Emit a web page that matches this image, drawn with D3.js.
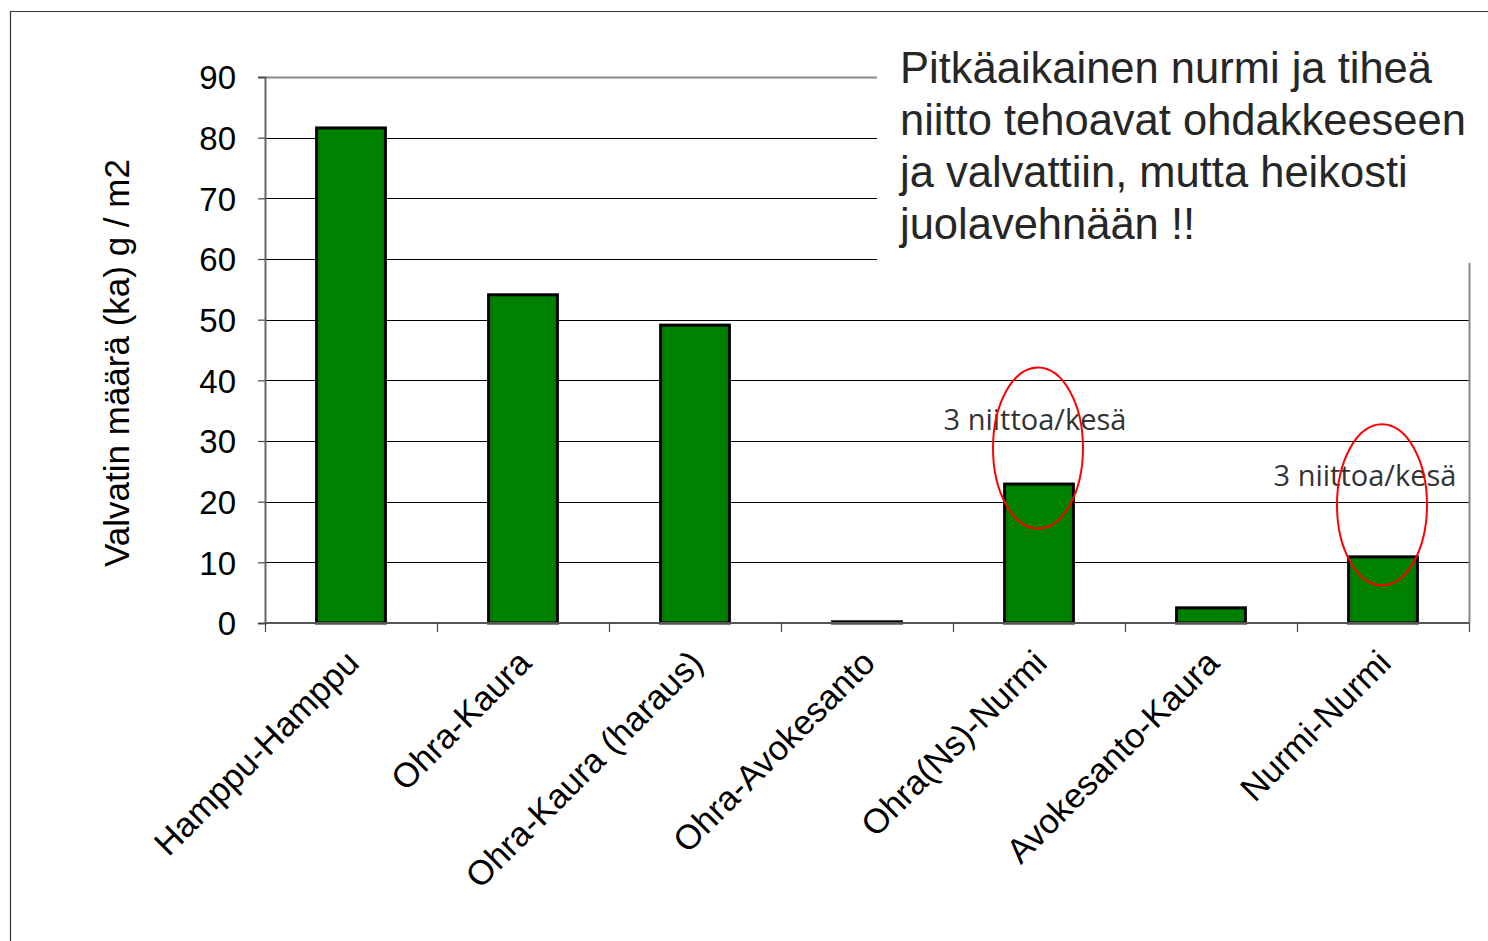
<!DOCTYPE html>
<html><head><meta charset="utf-8">
<script src="https://cdn.jsdelivr.net/npm/d3@7"></script>
<style>body{margin:0;background:#fff}svg{display:block}</style>
</head><body>
<svg id="c" width="1488" height="941"></svg>
<script>
const categories = ["Hamppu-Hamppu","Ohra-Kaura","Ohra-Kaura (haraus)","Ohra-Avokesanto","Ohra(Ns)-Nurmi","Avokesanto-Kaura","Nurmi-Nurmi"];
const values = [81.6, 54.1, 49.1, 0.2, 22.9, 2.5, 10.9];
const yTicks = [0,10,20,30,40,50,60,70,80,90];
const yTitle = "Valvatin määrä (ka) g / m2";
const noteLines = ["Pitkäaikainen nurmi ja tiheä","niitto tehoavat ohdakkeeseen","ja valvattiin, mutta heikosti","juolavehnään !!"];
const circled = ["Ohra(Ns)-Nurmi","Nurmi-Nurmi"];
const circleLabel = "3 niittoa/kesä";

const svg = d3.select("#c");
const L=265, R=1469, T=77, B=623;
const x = d3.scaleBand().domain(categories).range([L,R]).paddingInner(0.6).paddingOuter(0.3);
const xb = d3.scaleBand().domain(categories).range([L,R]);
const y = d3.scaleLinear().domain([0,90]).range([B,T]);
const FF = "Liberation Sans, Arial, sans-serif";

// outer frame
svg.append("path").attr("d","M10.5,941 V11.5 H1488").attr("fill","none").attr("stroke","#333").attr("stroke-width",1.2);

// gridlines
svg.append("g").selectAll("line").data(yTicks.filter(d=>d>0)).join("line")
  .attr("x1",L).attr("x2",R).attr("y1",d=>Math.round(y(d))+0.5).attr("y2",d=>Math.round(y(d))+0.5)
  .attr("stroke",d=>d===90?"#888":"#000").attr("stroke-width",d=>d===90?2:1);
// right border
svg.append("line").attr("x1",R+0.5).attr("x2",R+0.5).attr("y1",T).attr("y2",B).attr("stroke","#888").attr("stroke-width",2);

// annotation background box
svg.append("rect").attr("x",877).attr("y",30).attr("width",620).attr("height",233).attr("fill","#fff");

// bars
svg.append("g").selectAll("rect").data(categories).join("rect")
  .attr("x",d=>x(d)).attr("width",x.bandwidth())
  .attr("y",(d,i)=>y(values[i])).attr("height",(d,i)=>B-y(values[i]))
  .attr("fill","#008000").attr("stroke","#000").attr("stroke-width",3);

// y axis
const ya = svg.append("g").attr("transform",`translate(${L},0)`)
  .call(d3.axisLeft(y).tickValues(yTicks).tickSize(7).tickPadding(22).tickFormat(d3.format("d")));
ya.select(".domain").attr("stroke","#666").attr("stroke-width",2);
ya.selectAll(".tick line").attr("stroke","#444").attr("stroke-width",1.2);
ya.selectAll("text").attr("font-family",FF).attr("font-size",33).attr("fill","#000").attr("dy","0.36em");

// x axis
const xa = svg.append("g").attr("transform",`translate(0,${B})`);
xa.append("line").attr("x1",L).attr("x2",R).attr("stroke","#555").attr("stroke-width",2);
const edges = categories.map(c=>xb(c)).concat([R]);
xa.selectAll("line.t").data(edges).join("line").attr("class","t")
  .attr("x1",d=>d+0.5).attr("x2",d=>d+0.5).attr("y1",0).attr("y2",9).attr("stroke","#444").attr("stroke-width",1.2);
xa.selectAll("text").data(categories).join("text")
  .attr("transform",d=>`translate(${x(d)+x.bandwidth()/2+10},${42}) rotate(-45)`)
  .attr("text-anchor","end").attr("font-family",FF).attr("font-size",34.5).attr("fill","#000")
  .text(d=>d);

// y title
svg.append("text").attr("transform","translate(129,363) rotate(-90)").attr("text-anchor","middle")
  .attr("font-family",FF).attr("font-size",35).attr("fill","#000").text(yTitle);

// note
svg.append("text").attr("font-family",FF).attr("font-size",43.5).attr("fill","#262626")
  .selectAll("tspan").data(noteLines).join("tspan").attr("x",900).attr("y",(d,i)=>83+i*52).text(d=>d);

// circled labels and ellipses
const lbl = [{c:circled[0], ty:430, dx:-4, off:36},{c:circled[1], ty:486, dx:-18, off:52}];
lbl.forEach(o=>{
  const i = categories.indexOf(o.c);
  const cx = x(o.c)+x.bandwidth()/2;
  svg.append("text").attr("x",cx+o.dx).attr("y",o.ty).attr("text-anchor","middle")
    .attr("font-family","Open Sans, Noto Sans, sans-serif").attr("font-size",29).attr("fill","#333").text(circleLabel);
  svg.append("ellipse").attr("cx",cx-1).attr("cy",y(values[i])-o.off).attr("rx",45).attr("ry",80.5)
    .attr("fill","none").attr("stroke","#ff0000").attr("stroke-width",2);
});
</script>
</body></html>
